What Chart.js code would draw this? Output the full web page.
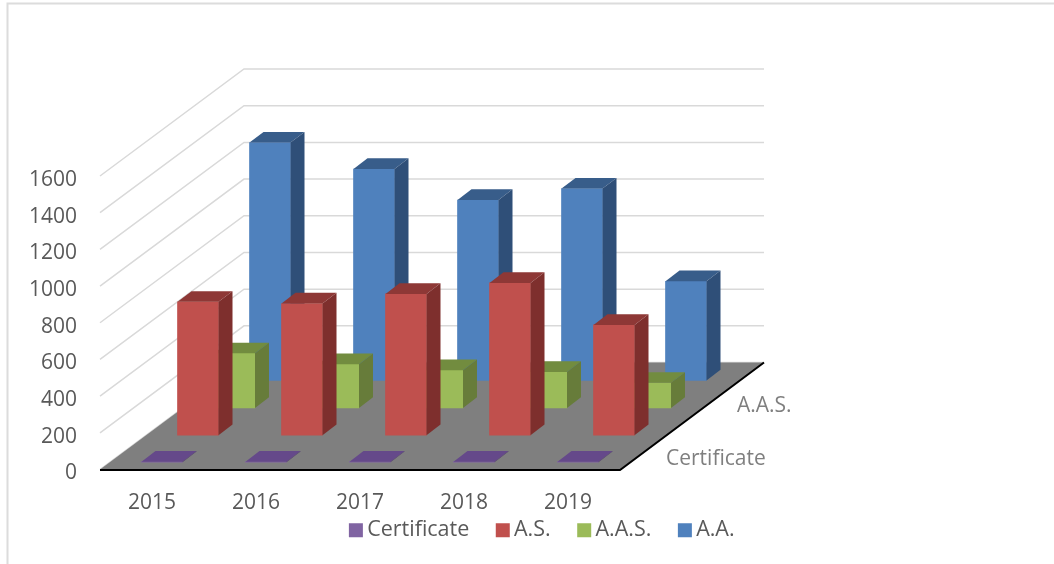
<!DOCTYPE html>
<html>
<head>
<meta charset="utf-8">
<style>html,body{margin:0;padding:0;background:#fff}canvas{display:block}</style>
<script src="https://cdn.jsdelivr.net/npm/chart.js@4"></script>
</head>
<body>
<canvas id="c" width="1054" height="564"></canvas>
<script>
const years = ['2015', '2016', '2017', '2018', '2019'];
const certificate = [3, 3, 3, 3, 3];
const associateScience = [727, 718, 770, 830, 601];
const associateAppliedScience = [298, 239, 206, 196, 137];
const associateArts = [1297, 1153, 984, 1046, 541];

const FONT = '"Open Sans"';
const FONT_SIZE = 21;
const LEGEND_FONT_SIZE = 21.5;
const TEXT = '#595959';
const floorDx = 144, floorDy = -107;      // perspective vector of the floor
const barDx = 14, barDy = -10.7;          // perspective vector of one bar
const depthShift = [[10, -7.3], [46, -34.3], [82.5, -61.5], [118, -89]]; // per series
const faces = [
  {top: '#65498A', side: '#4E3A6A'},
  {top: '#8E3836', side: '#7E2F2D'},
  {top: '#728C3F', side: '#677C3A'},
  {top: '#385D8A', side: '#2F4F78'}
];

function poly(ctx, pts, fill) {
  ctx.beginPath();
  pts.forEach((p, i) => i ? ctx.lineTo(p[0], p[1]) : ctx.moveTo(p[0], p[1]));
  ctx.closePath();
  ctx.fillStyle = fill;
  ctx.fill();
}

const scene3d = {
  id: 'scene3d',
  afterLayout(chart) {
    const lg = chart.legend;
    const dy = 530 - (lg.top + lg.options.labels.padding + FONT_SIZE / 2);
    lg.left += 18; lg.right += 18;
    lg.top += dy; lg.bottom += dy;
  },
  beforeDatasetsDraw(chart) {
    const ctx = chart.ctx, y = chart.scales.y, a = chart.chartArea;
    ctx.save();
    // outer frame
    ctx.strokeStyle = '#dcdcdc';
    ctx.lineWidth = 2;
    ctx.beginPath();
    ctx.moveTo(7.5, 564); ctx.lineTo(7.5, 3.5); ctx.lineTo(1054, 3.5);
    ctx.stroke();
    // side wall and back wall gridlines
    ctx.strokeStyle = '#d9d9d9';
    ctx.lineWidth = 1.5;
    y.ticks.forEach(t => {
      const py = y.getPixelForValue(t.value);
      ctx.beginPath();
      ctx.moveTo(a.left, py);
      ctx.lineTo(a.left + floorDx, py + floorDy);
      ctx.lineTo(a.right + floorDx, py + floorDy);
      ctx.stroke();
    });
    // floor
    const b = y.getPixelForValue(0);
    poly(ctx, [[a.left, b], [a.right, b], [a.right + floorDx, b + floorDy], [a.left + floorDx, b + floorDy]], '#7f7f7f');
    ctx.strokeStyle = '#000';
    ctx.lineWidth = 2;
    ctx.beginPath();
    ctx.moveTo(a.left, b + 0.5);
    ctx.lineTo(a.right, b + 0.5);
    ctx.lineTo(a.right + floorDx, b + floorDy);
    ctx.stroke();
    // depth axis labels
    ctx.fillStyle = '#7f7f7f';
    ctx.font = FONT_SIZE + 'px ' + FONT;
    ctx.textBaseline = 'middle';
    ctx.textAlign = 'left';
    ctx.fillText(chart.data.datasets[2].label, 737, 406);
    ctx.fillText(chart.data.datasets[0].label, 666, 459);
    ctx.restore();
  },
  beforeDatasetDraw(chart, args) {
    const s = depthShift[args.index];
    chart.ctx.save();
    chart.ctx.translate(s[0], s[1]);
  },
  afterDatasetDraw(chart, args) {
    const ctx = chart.ctx, f = faces[args.index];
    args.meta.data.forEach(el => {
      const {x, y, base, width} = el.getProps(['x', 'y', 'base', 'width'], true);
      const l = x - width / 2, r = x + width / 2;
      poly(ctx, [[l, y], [r, y], [r + barDx, y + barDy], [l + barDx, y + barDy]], f.top);
      poly(ctx, [[r, y], [r + barDx, y + barDy], [r + barDx, base + barDy], [r, base]], f.side);
    });
    ctx.restore();
  }
};

new Chart(document.getElementById('c'), {
  type: 'bar',
  data: {
    labels: years,
    datasets: [
      {label: 'Certificate', data: certificate, backgroundColor: '#8064A2'},
      {label: 'A.S.', data: associateScience, backgroundColor: '#C0504D'},
      {label: 'A.A.S.', data: associateAppliedScience, backgroundColor: '#9BBB59'},
      {label: 'A.A.', data: associateArts, backgroundColor: '#4F81BD'}
    ]
  },
  plugins: [scene3d],
  options: {
    responsive: false,
    animation: false,
    clip: false,
    layout: {padding: {top: 176, left: 0, right: 0, bottom: -16}},
    datasets: {bar: {grouped: false, barThickness: 41, borderWidth: 0, clip: false}},
    plugins: {
      tooltip: {enabled: false},
      legend: {
        position: 'bottom',
        labels: {
          font: {family: FONT, size: LEGEND_FONT_SIZE},
          color: TEXT,
          boxWidth: 1,
          boxHeight: 1,
          padding: 33,
          generateLabels: chart => Chart.defaults.plugins.legend.labels.generateLabels(chart)
            .map(l => ({...l, strokeStyle: l.fillStyle, lineWidth: 13}))
        }
      }
    },
    scales: {
      x: {
        grid: {display: false},
        border: {display: false},
        ticks: {font: {family: FONT, size: FONT_SIZE}, color: TEXT, padding: 13, maxRotation: 0},
        afterFit: s => { s.height = 46; }
      },
      y: {
        min: 0,
        max: 1600,
        grid: {display: false},
        border: {display: false},
        ticks: {stepSize: 200, font: {family: FONT, size: FONT_SIZE}, color: TEXT, padding: 15, labelOffset: 4,
                callback: v => String(v)},
        afterFit: s => { s.width = 100; }
      },
      yRight: {
        position: 'right',
        display: true,
        grid: {display: false},
        border: {display: false},
        ticks: {display: false},
        afterFit: s => { s.width = 434; }
      }
    }
  }
});
</script>
</body>
</html>
